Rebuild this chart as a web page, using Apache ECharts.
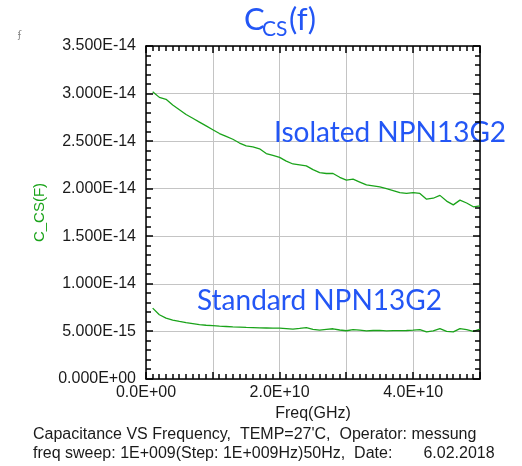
<!DOCTYPE html>
<html>
<head>
<meta charset="utf-8">
<script src="https://cdn.jsdelivr.net/npm/echarts@6/dist/echarts.min.js"></script>
<style>html,body{margin:0;padding:0;background:#fff}#c{width:522px;height:466px}</style>
</head>
<body>
<div id="c"></div>
<script>
// Frequency in GHz (1E+009 .. 5E+010, step 1E+009)
const freqGHz = [1,2,3,4,5,6,7,8,9,10,11,12,13,14,15,16,17,18,19,20,21,22,23,24,25,26,27,28,29,30,31,32,33,34,35,36,37,38,39,40,41,42,43,44,45,46,47,48,49,50];
// C_CS in fF (1E-15 F)
const isolatedFF = [30.2,29.6,29.4,28.8,28.3,27.8,27.4,27.0,26.6,26.2,25.8,25.5,25.2,24.8,24.5,24.4,24.2,23.7,23.5,23.3,22.9,22.6,22.5,22.4,22.0,21.7,21.6,21.6,21.2,20.9,21.0,20.7,20.4,20.3,20.2,20.0,19.8,19.6,19.5,19.6,19.5,18.9,19.0,19.3,18.7,18.3,18.8,18.5,18.1,18.2];
const standardFF = [7.45,6.75,6.4,6.2,6.05,5.92,5.82,5.72,5.65,5.62,5.56,5.52,5.48,5.45,5.42,5.40,5.38,5.36,5.34,5.34,5.30,5.25,5.32,5.40,5.22,5.14,5.22,5.28,5.15,5.07,5.20,5.14,5.05,5.10,5.12,5.06,5.08,5.08,5.10,5.14,5.20,4.95,5.05,5.30,5.00,4.95,5.30,5.20,5.00,5.24];
const yTickLabels = ['0.000E+00','5.000E-15','1.000E-14','1.500E-14','2.000E-14','2.500E-14','3.000E-14','3.500E-14'];
const xTickLabels = ['0.0E+00','2.0E+10','4.0E+10'];
const yMaxFF = 35, yStepFF = 5, yMinorFF = 1;
const xMaxGHz = 50, xStepGHz = 10, xMinorGHz = 1;

// tick positions along each axis (axis decoration)
const xTickVals = [];
for (let v = 0; v <= xMaxGHz; v += xMinorGHz) xTickVals.push(v);
const yTickVals = [];
for (let v = 0; v <= yMaxFF; v += yMinorFF) yTickVals.push(v);

const chart = echarts.init(document.getElementById('c'), null, {renderer:'canvas'});
const green = '#1aa31a';
const blue = '#2356f5';
const labelFont = {fontFamily:'Liberation Sans, Arial, sans-serif', fontSize:16, color:'#1a1a1a'};

const mkX = (pos, show) => ({
  type:'value', position:pos, min:0, max:xMaxGHz, interval:xStepGHz,
  axisLine:{show:true, onZero:false, lineStyle:{color:'#000', width:1.5}},
  axisTick:{show:false},
  splitLine:{show:show, lineStyle:{color:'#c4c4c4', width:1}},
  axisLabel:{show:show, margin:6, ...labelFont,
    formatter:(v)=>{ const i = Math.round(v/xStepGHz); return i%2===0 ? (xTickLabels[i/2]||'') : ''; }},
  name: show ? 'Freq(GHz)' : '', nameLocation:'middle', nameGap:25,
  nameTextStyle:{...labelFont}
});
const mkY = (pos, show) => ({
  type:'value', position:pos, min:0, max:yMaxFF, interval:yStepFF,
  axisLine:{show:true, onZero:false, lineStyle:{color:'#000', width:1.5}},
  axisTick:{show:false},
  splitLine:{show:show, lineStyle:{color:'#c4c4c4', width:1}},
  axisLabel:{show:show, margin:10, ...labelFont,
    formatter:(v)=> yTickLabels[Math.round(v/yStepFF)] || ''},
  name: show ? 'C_CS(F)' : '', nameLocation:'middle', nameGap:98,
  nameTextStyle:{fontFamily:'Liberation Sans, Arial, sans-serif', fontSize:15, color:green}
});

chart.setOption({
  animation:false,
  backgroundColor:'#fff',
  grid:{left:146, right:42, top:46, bottom:87, containLabel:false},
  xAxis:[mkX('bottom', true), mkX('top', false)],
  yAxis:[mkY('left', true), mkY('right', false)],
  series:[
    {type:'line', name:'Isolated NPN13G2', xAxisIndex:0, yAxisIndex:0, showSymbol:false,
     lineStyle:{color:green, width:1.3}, data: freqGHz.map((f,i)=>[f, isolatedFF[i]])},
    {type:'line', name:'Standard NPN13G2', xAxisIndex:0, yAxisIndex:0, showSymbol:false,
     lineStyle:{color:green, width:1.3}, data: freqGHz.map((f,i)=>[f, standardFF[i]])}
  ]
});

// Inward ticks on all four borders, placed through the chart's own scales
const tickEls = [];
const tickStyle = {stroke:'#000', lineWidth:1.5};
const px = (x, y) => chart.convertToPixel({gridIndex:0}, [x, y]);
xTickVals.forEach(v => {
  const len = (v % xStepGHz === 0) ? 7 : 5;
  const b = px(v, 0), t = px(v, yMaxFF);
  const x = Math.round(b[0]);
  tickEls.push({type:'line', silent:true, z:50, shape:{x1:x, y1:b[1], x2:x, y2:b[1]-len}, style:tickStyle});
  tickEls.push({type:'line', silent:true, z:50, shape:{x1:x, y1:t[1], x2:x, y2:t[1]+len}, style:tickStyle});
});
yTickVals.forEach(v => {
  const len = (v % yStepFF === 0) ? 7 : 5;
  const l = px(0, v), r = px(xMaxGHz, v);
  const y = Math.round(l[1]);
  tickEls.push({type:'line', silent:true, z:50, shape:{x1:l[0], y1:y, x2:l[0]+len, y2:y}, style:tickStyle});
  tickEls.push({type:'line', silent:true, z:50, shape:{x1:r[0], y1:y, x2:r[0]-len, y2:y}, style:tickStyle});
});

chart.setOption({
  graphic: tickEls.concat([
    {type:'text', left:244, top:4, style:{text:'C', font:'31px Lato, sans-serif', fill:blue}},
    {type:'text', left:262, top:19, style:{text:'CS', font:'21px Lato, sans-serif', fill:blue}},
    {type:'text', left:289, top:4, style:{text:'(f)', font:'31px Lato, sans-serif', fill:blue}},
    {type:'text', left:18, top:30, style:{text:'ʄ', font:'10px DejaVu Sans, sans-serif', fill:'#888'}},
    {type:'text', left:274, top:119, style:{text:'Isolated NPN13G2', font:'28px Lato, sans-serif', fill:blue}},
    {type:'text', left:197, top:287, style:{text:'Standard NPN13G2', font:'28px Lato, sans-serif', fill:blue}},
    {type:'text', left:33, top:427, style:{text:"Capacitance VS Frequency,  TEMP=27'C,  Operator: messung", font:'16px Liberation Sans, Arial, sans-serif', fill:'#1a1a1a'}},
    {type:'text', left:33, top:446, style:{text:'freq sweep: 1E+009(Step: 1E+009Hz)50Hz,  Date:       6.02.2018', font:'16px Liberation Sans, Arial, sans-serif', fill:'#1a1a1a'}}
  ])
});
</script>
</body>
</html>
